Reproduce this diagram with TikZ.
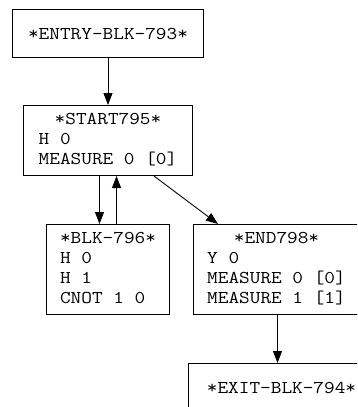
\documentclass[tikz,border=0pt]{standalone}
\usepackage{fontspec}
\setmonofont[FakeStretch=1.15]{Latin Modern Mono}
\usetikzlibrary{arrows.meta}
\begin{document}
\begin{tikzpicture}[x=1pt,y=-1pt,
  blk/.style={draw,line width=1pt,inner sep=0pt,anchor=north west,
    font=\ttfamily\fontsize{18}{20}\selectfont},
  arr/.style={line width=0.9pt,-{Triangle[length=12pt,width=9pt]}}]
\useasboundingbox (0,0) rectangle (357,407);
\clip (0,0) rectangle (357,407);
\node[blk,minimum width=191pt,minimum height=48pt] (entry) at (12,9) {*ENTRY-BLK-793*};
\node[blk,minimum width=169pt,minimum height=70pt] (start) at (23,105)
  {\begin{tabular}{@{}l@{}}\multicolumn{1}{c}{*START795*}\\H 0\\MEASURE 0 [0]\end{tabular}};
\node[blk,minimum width=123pt,minimum height=90pt] (blk796) at (46,224)
  {\begin{tabular}{@{}l@{}}*BLK-796*\\H 0\\H 1\\CNOT 1 0\end{tabular}};
\node[blk,minimum width=166pt,minimum height=90pt] (end) at (193,224)
  {\begin{tabular}{@{}l@{}}\multicolumn{1}{c}{*END798*}\\Y 0\\MEASURE 0 [0]\\MEASURE 1 [1]\end{tabular}};
\node[blk,minimum width=186pt,minimum height=48pt] (exit) at (188,363) {*EXIT-BLK-794*};
\draw[arr] (entry) -- (start);
\draw[arr] ([xshift=-8.5pt]start.south) -- ([xshift=-8.5pt]start.south |- blk796.north);
\draw[arr] ([xshift=8.5pt]start.south |- blk796.north) -- ([xshift=8.5pt]start.south);
\draw[arr] ([xshift=-39pt]start.south east) -- ([xshift=25pt]end.north west);
\draw[arr] ([xshift=1pt]end.south) -- ([xshift=1pt]end.south |- exit.north);
\end{tikzpicture}
\end{document}
